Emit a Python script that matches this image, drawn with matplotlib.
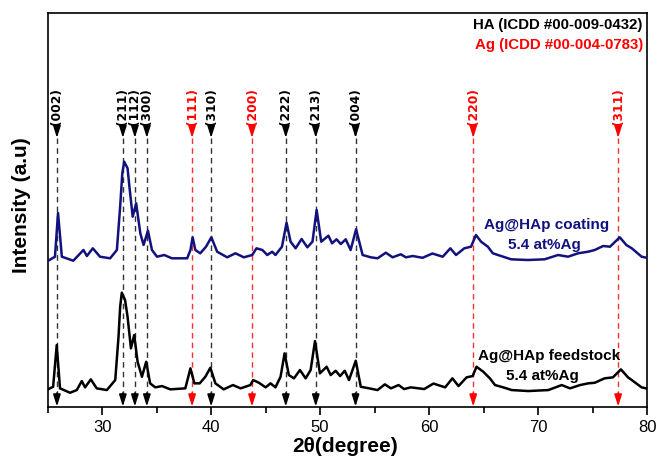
import matplotlib.pyplot as plt

plt.rcParams['font.family'] = ['Liberation Sans', 'DejaVu Sans']

# HA and Ag reflections (2theta, hkl)
ha_pos = [25.85, 31.9, 33.0, 34.1, 40.0, 46.85, 49.6, 53.25]
ha_hkl = ['(002)', '(211)', '(112)', '(300)', '(310)', '(222)', '(213)', '(004)']
ag_pos = [38.25, 43.75, 64.05, 77.35]
ag_hkl = ['(111)', '(200)', '(220)', '(311)']

# Ag@HAp coating pattern (arbitrary units)
coat_2theta = [24.9, 25.67, 25.95, 26.3, 27.35, 28.28, 28.6, 29.14, 29.8, 30.73,
               31.35, 31.65, 31.85, 32.02, 32.33, 32.5, 32.8, 33.12, 33.5, 33.8, 34.2,
               34.57, 35.03, 35.7, 36.4, 37.8, 38.1, 38.3, 38.55, 39.0, 39.53,
               40.02, 40.55, 41.47, 42.23, 43.0, 43.77, 44.16, 44.7, 45.15, 45.6,
               45.9, 46.5, 46.92, 47.29, 47.75, 48.3, 48.83, 49.3, 49.68, 50.1,
               50.76, 51.1, 51.5, 51.9, 52.35, 52.8, 53.3, 53.9, 54.65, 55.27,
               56.03, 56.65, 57.4, 57.87, 58.5, 59.4, 60.3, 61.25, 61.95, 62.47,
               63.23, 63.85, 64.3, 64.77, 65.39, 65.85, 66.6, 67.53, 69.06, 70.6,
               71.83, 72.75, 73.67, 74.6, 75.2, 75.97, 76.6, 77.5, 78.1, 78.6,
               79.5, 80.2]
coat_int = [15.3, 20.3, 64.0, 20.3, 16.3, 27.0, 21.0, 28.7, 20.3, 18.7,
            27.0, 70.3, 104.0, 115.3, 108.7, 90.3, 60.3, 73.7, 43.7, 32.0, 46.3,
            27.0, 20.3, 22.0, 18.7, 18.7, 27.0, 39.7, 27.0, 23.7, 30.3,
            39.7, 25.3, 19.7, 23.7, 19.7, 22.0, 28.7, 27.0, 22.0, 25.3,
            22.0, 30.3, 54.3, 35.3, 28.7, 38.0, 29.7, 35.3, 67.0, 35.3,
            41.3, 33.7, 37.7, 33.0, 37.7, 27.0, 47.7, 22.0, 19.7, 18.7,
            24.3, 19.7, 22.7, 19.7, 21.0, 19.2, 23.5, 20.3, 28.7, 22.0,
            28.7, 30.3, 42.0, 35.3, 30.3, 23.7, 21.0, 17.7, 17.0, 17.7,
            22.0, 20.3, 23.7, 25.3, 27.0, 31.0, 30.3, 39.7, 32.0, 28.7,
            20.3, 18.7]

# Ag@HAp feedstock pattern (arbitrary units)
feed_2theta = [24.9, 25.5, 25.83, 26.13, 27.05, 27.67, 28.13, 28.43, 28.96, 29.5,
               30.43, 31.2, 31.5, 31.65, 31.8, 32.1, 32.33, 32.64, 32.94, 33.25, 33.65,
               34.04, 34.4, 34.87, 35.49, 36.25, 37.63, 38.1, 38.46, 38.95, 39.47,
               39.93, 40.39, 41.15, 42.0, 42.7, 43.6, 43.86, 44.38, 45.0, 45.45,
               45.9, 46.37, 46.74, 47.13, 47.6, 48.15, 48.67, 49.13, 49.53, 49.98,
               50.6, 50.97, 51.43, 51.83, 52.26, 52.65, 53.27, 53.73, 54.5, 55.27,
               55.94, 56.5, 57.2, 57.7, 58.33, 59.55, 60.4, 61.47, 62.14, 62.7,
               63.44, 64.0, 64.35, 64.97, 65.58, 66.05, 66.8, 67.58, 69.1, 70.94,
               72.17, 72.93, 73.85, 74.6, 75.2, 76.1, 76.87, 77.6, 78.25, 78.6,
               79.5, 80.2]
feed_int = [17.0, 20.3, 62.0, 18.7, 14.3, 17.0, 26.0, 19.7, 27.7, 18.7,
            17.0, 27.0, 70.3, 100.0, 114.3, 107.0, 90.3, 58.7, 72.0, 45.3, 30.3,
            45.3, 23.7, 19.7, 21.0, 17.7, 18.7, 38.7, 23.7, 23.7, 30.3,
            39.3, 23.7, 17.7, 22.0, 18.7, 22.0, 27.0, 24.3, 19.7, 23.7,
            19.7, 30.3, 53.7, 32.0, 28.7, 37.0, 28.7, 37.0, 66.0, 33.7,
            40.3, 32.0, 36.3, 31.0, 36.3, 27.0, 46.3, 20.3, 18.7, 17.0,
            22.7, 18.7, 22.0, 18.0, 19.7, 18.0, 23.5, 19.7, 28.7, 21.0,
            29.7, 31.0, 40.3, 35.3, 28.7, 22.0, 19.7, 17.0, 16.0, 17.0,
            22.0, 18.7, 22.0, 23.7, 24.3, 28.7, 29.7, 37.7, 29.7, 27.0,
            19.7, 18.0]

coat_offset = 130
navy = '#12127e'

fig = plt.figure(figsize=(6.65, 4.61), dpi=100)
ax = fig.add_axes([0.0717, 0.117, 0.9013, 0.855])

# reference lines with arrows
arrow_style = '-|>,head_length=0.7,head_width=0.22'
for positions, labels, col, lcol in [(ha_pos, ha_hkl, 'black', '#333333'),
                                     (ag_pos, ag_hkl, 'red', '#ff3030')]:
    for x, lab in zip(positions, labels):
        ax.plot([x, x], [269, 12], color=lcol, lw=1.0, ls=(0, (4, 3)), zorder=1)
        ax.annotate('', xy=(x, 269), xytext=(x, 281),
                    arrowprops=dict(arrowstyle=arrow_style, color=col, lw=1.2,
                                    shrinkA=0, shrinkB=0))
        ax.annotate('', xy=(x, 0.5), xytext=(x, 14),
                    arrowprops=dict(arrowstyle=arrow_style, color=col, lw=1.2,
                                    shrinkA=0, shrinkB=0))
        ax.text(x, 300, lab, rotation=90, ha='center', va='center',
                fontsize=8.8, fontweight='bold', color=col, family='DejaVu Sans')

ax.plot(coat_2theta, [v + coat_offset for v in coat_int], color=navy, lw=1.8,
        zorder=3, solid_joinstyle='round')
ax.plot(feed_2theta, feed_int, color='black', lw=1.8, zorder=3,
        solid_joinstyle='round')

ax.text(70.8, 182, 'Ag@HAp coating', ha='center', va='center', fontsize=11,
        fontweight='bold', color=navy)
ax.text(70.6, 162, '5.4 at%Ag', ha='center', va='center', fontsize=11,
        fontweight='bold', color=navy)
ax.text(71.0, 51, 'Ag@HAp feedstock', ha='center', va='center', fontsize=11,
        fontweight='bold', color='black')
ax.text(70.4, 31, '5.4 at%Ag', ha='center', va='center', fontsize=11,
        fontweight='bold', color='black')

ax.text(0.993, 0.9695, 'HA (ICDD #00-009-0432)', transform=ax.transAxes,
        ha='right', va='center', fontsize=10.8, fontweight='bold', color='black')
ax.text(0.993, 0.918, 'Ag (ICDD #00-004-0783)', transform=ax.transAxes,
        ha='right', va='center', fontsize=10.8, fontweight='bold', color='red')

ax.set_xlim(25, 80)
ax.set_ylim(0, 394)
ax.set_xticks([30, 40, 50, 60, 70, 80])
ax.set_xticks([25, 35, 45, 55, 65, 75], minor=True)
ax.set_yticks([])
ax.tick_params(axis='x', which='major', direction='out', length=6, width=1.2,
               labelsize=12, pad=3)
ax.tick_params(axis='x', which='minor', direction='out', length=4, width=1.2)
for s in ax.spines.values():
    s.set_linewidth(1.2)

ax.set_xlabel('2θ(degree)', fontsize=15, fontweight='bold', va='center')
ax.xaxis.set_label_coords(0.496, -0.099)
ax.set_ylabel('Intensity (a.u)', fontsize=15, fontweight='bold', va='center')
ax.yaxis.set_label_coords(-0.043, 0.513)

fig.savefig('out.png', dpi=100)
